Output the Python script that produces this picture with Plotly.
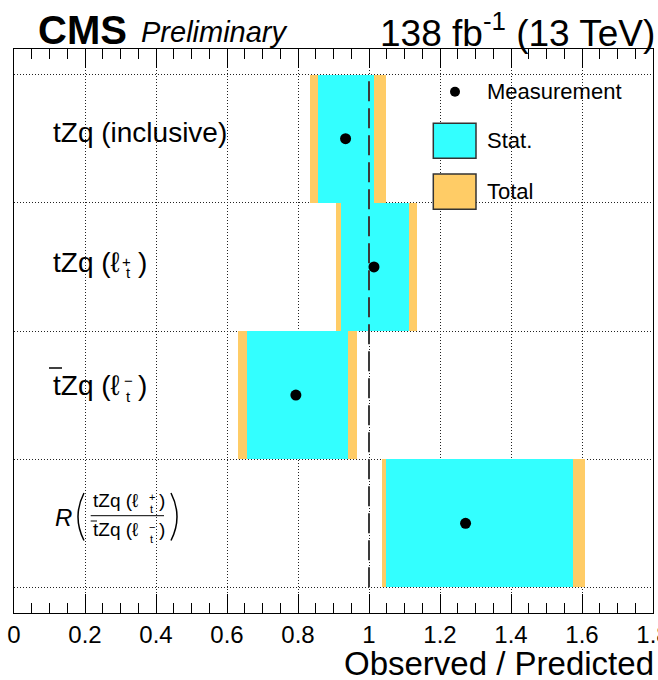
import plotly.graph_objects as go

# Observed / predicted ratios, listed from the top row to the bottom row
measurements = ["tZq (inclusive)", "tZq (lt+)", "tbarZq (lt-)", "R(tZq / tbarZq)"]
central = [0.934, 1.014, 0.794, 1.272]
stat_down = [0.077, 0.093, 0.139, 0.225]
stat_up = [0.080, 0.099, 0.147, 0.303]
total_down = [0.101, 0.107, 0.162, 0.236]
total_up = [0.113, 0.120, 0.173, 0.336]

x_range = [0.0, 1.80001]
x_major = 0.2
x_minor = 0.05

CYAN = "#33FFFF"
ORANGE = "#FFCC66"
FONT = "Liberation Sans, Arial, Helvetica, sans-serif"

W, H = 658, 680
ML, MR, MT, MB = 14, 5, 49, 67


def xp(px):
    """Page pixel column -> paper x."""
    return (px - ML) / (W - ML - MR)


def yp(py):
    """Page pixel row -> paper y."""
    return (H - MB - py) / (H - MT - MB)


n = len(measurements)
rows = [n - i - 0.5 for i in range(n)]

fig = go.Figure()

# total uncertainty band (drawn first), statistical band on top
fig.add_trace(go.Bar(
    orientation="h", y=rows,
    base=[c - d for c, d in zip(central, total_down)],
    x=[d + u for d, u in zip(total_down, total_up)],
    width=1.0, marker=dict(color=ORANGE, line=dict(width=0)),
    showlegend=False, hoverinfo="skip",
))
fig.add_trace(go.Bar(
    orientation="h", y=rows,
    base=[c - d for c, d in zip(central, stat_down)],
    x=[d + u for d, u in zip(stat_down, stat_up)],
    width=1.0, marker=dict(color=CYAN, line=dict(width=0)),
    showlegend=False, hoverinfo="skip",
))
fig.add_trace(go.Scatter(
    x=central, y=rows, mode="markers",
    marker=dict(color="black", size=11, symbol="circle"),
    showlegend=False, hoverinfo="skip",
))

shapes = []
annotations = []

# SM expectation
shapes.append(dict(type="line", xref="x", yref="y", x0=1.0, x1=1.0, y0=0, y1=n,
                   line=dict(color="#3a3a3a", width=2, dash="20px,7px"), layer="above"))


def text(s, x, y, size, anchor="left", **extra):
    annotations.append(dict(
        text=s, x=xp(x), y=yp(y), xref="paper", yref="paper",
        xanchor=anchor, yanchor="middle", showarrow=False,
        font=dict(family=FONT, size=size, color="black"), **extra))


def hline(x0, x1, y, width=1.2):
    shapes.append(dict(type="line", xref="paper", yref="paper",
                       x0=xp(x0), x1=xp(x1), y0=yp(y), y1=yp(y),
                       line=dict(color="black", width=width), layer="above"))


# header
text("<b>CMS</b>", 36, 30, 40)
text("<i>Preliminary</i>", 139, 32, 29)
text("138 fb<sup>-1</sup> (13 TeV)", 657, 30, 37, anchor="right")

# axis title
text("Observed / Predicted", 656, 663, 33, anchor="right")

# row labels
text("tZq (inclusive)", 51, 132, 28)

text("tZq (ℓ", 51, 262, 28)
text("+", 126, 261, 15, anchor="center")
text("t", 128, 272, 15, anchor="center")
text(")", 142, 262, 28, anchor="center")

text("tZq (ℓ", 51, 385, 28)
hline(49, 62, 368, 1.5)
text("−", 128, 380, 15, anchor="center")
text("t", 128, 396, 15, anchor="center")
text(")", 142, 385, 28, anchor="center")

text("<i>R</i>", 53, 517, 24)
for x_end, ctrl in ((84, 72), (171, 183)):
    shapes.append(dict(type="path", xref="paper", yref="paper",
                       path=f"M {xp(x_end)},{yp(493)} Q {xp(ctrl)},{yp(516.7)} {xp(x_end)},{yp(540.5)}",
                       line=dict(color="black", width=1.5), layer="above"))
text("tZq (ℓ", 90.5, 500, 19)
text("+", 151.7, 497, 11, anchor="center")
text("t", 151.7, 509, 11, anchor="center")
text(")", 161.5, 500, 19, anchor="center")
hline(90.7, 164, 515.7, 1.0)
text("tZq (ℓ", 90.5, 529, 19)
hline(90.7, 97, 521, 1.0)
text("−", 151.7, 526.5, 11, anchor="center")
text("t", 151.7, 538.5, 11, anchor="center")
text(")", 161.5, 529, 19, anchor="center")

# legend
shapes.append(dict(type="circle", xref="paper", yref="paper",
                   x0=xp(450), x1=xp(460), y0=yp(86.7), y1=yp(96.7),
                   fillcolor="black", line=dict(width=0), layer="above"))
text("Measurement", 485, 91, 22)
for (y0, y1), col, name in (((123.3, 158.3), CYAN, "Stat."), ((174, 209.3), ORANGE, "Total")):
    shapes.append(dict(type="rect", xref="paper", yref="paper",
                       x0=xp(433.3), x1=xp(476), y0=yp(y1), y1=yp(y0),
                       fillcolor=col, line=dict(color="#333333", width=1.5), layer="above"))
    text(name, 485, (y0 + y1) / 2, 22)

fig.update_layout(
    width=W, height=H,
    margin=dict(l=ML, r=MR, t=MT, b=MB, pad=0),
    paper_bgcolor="white", plot_bgcolor="white",
    barmode="overlay", bargap=0,
    showlegend=False,
    shapes=shapes, annotations=annotations,
    font=dict(family=FONT, color="black"),
)
fig.update_xaxes(
    range=x_range, tick0=0, dtick=x_major,
    ticks="inside", ticklen=19, tickwidth=1, tickcolor="black",
    minor=dict(dtick=x_minor, ticks="inside", ticklen=10, tickwidth=1,
               tickcolor="black", showgrid=False),
    showline=True, linecolor="black", linewidth=1.2, mirror="ticks",
    showgrid=True, gridcolor="#222222", gridwidth=1, griddash="1px,2px",
    zeroline=False, layer="above traces",
    tickfont=dict(family=FONT, size=24, color="black"),
    ticklabeloverflow="allow",
    automargin=False, fixedrange=True,
)
fig.update_yaxes(
    range=[-0.2, n + 0.2], tickvals=list(range(n + 1)),
    showticklabels=False, ticks="",
    showline=True, linecolor="black", linewidth=1.2, mirror=True,
    showgrid=True, gridcolor="#222222", gridwidth=1, griddash="1px,2px",
    zeroline=False, layer="above traces",
    automargin=False, fixedrange=True,
)

fig.write_html("out.html", config={"displayModeBar": False})
